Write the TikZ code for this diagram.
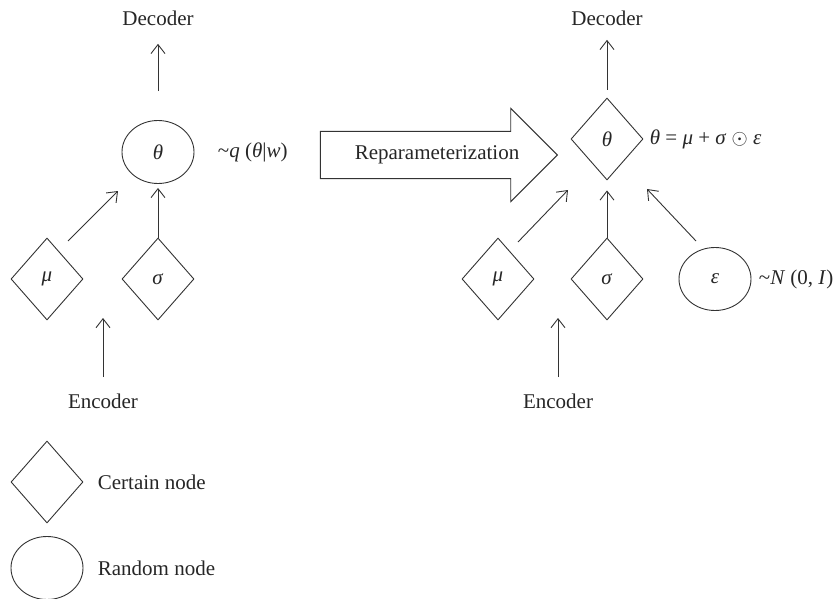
\documentclass[tikz,border=0pt]{standalone}
\usepackage{fontspec}
\setmainfont{Liberation Serif}
\usetikzlibrary{positioning,shapes.geometric,shapes.arrows,arrows.meta}

\begin{document}
\begin{tikzpicture}[
                x=1pt, y=1pt,                 % 按像素定位
                every node/.style={
                    font=\fontsize{21}{25}\selectfont,
                    text=black!85,
                    inner sep=0pt
                },
                >={Straight Barb[length=9pt,width=14pt]},
                line width=0.9pt,
                draw=black!80,
                certain/.style={diamond, draw, minimum width=72pt, minimum height=82pt},
                random/.style={ellipse, draw, minimum width=72pt, minimum height=63pt},
                arrow/.style={->},
                reparrow/.style={single arrow, draw, inner ysep=14pt, inner xsep=0pt,
                    minimum height=237pt, single arrow head extend=23pt,
                    single arrow tip angle=90}
            ]
                \useasboundingbox (0,0) rectangle (833,-599);

                % 左：采样
                \node[random] (thetaL) at (158,-152) {\textit{θ}};
                \node[certain] (sigmaL) [node distance=127pt, below of=thetaL] {\textit{σ}};
                \node[certain] (muL) [node distance=111pt, left of=sigmaL] {\textit{μ}};
                \node (decL) [node distance=134pt, above of=thetaL] {Decoder};
                \node (encL) at (103,-401) {Encoder};
                \coordinate (encLin) at (103,-318);
                \node (qL) [right=23pt of thetaL] {\textasciitilde\textit{q} (\textit{θ}|\textit{w})};

                % 中间箭头
                \node[reparrow, anchor=tip] (rep) at (558,-155) {\hspace*{20pt}Reparameterization};

                % 右：重参数化
                \node[certain] (thetaR) at (607,-139) {\textit{θ}};
                \node[certain] (sigmaR) [node distance=140pt, below of=thetaR] {\textit{σ}};
                \node[certain] (muR) [node distance=109pt, left of=sigmaR] {\textit{μ}};
                \node[random] (epsR) [node distance=108pt, right of=sigmaR] {\textit{ε}};
                \node (decR) [node distance=121pt, above of=thetaR] {Decoder};
                \node (encR) at (558,-401) {Encoder};
                \coordinate (encRin) at (558,-318);
                \node (eqR) [right=6pt of thetaR] {\textit{θ} = \textit{μ} + \textit{σ} $\odot$ \textit{ε}};
                \node (nR) [right=7pt of epsR] {\textasciitilde\textit{N} (0, \textit{I})};

                % 图例
                \node[certain] (legC) at (47,-482) {};
                \node (legCt) [right=14pt of legC] {Certain node};
                \node[random] (legR) at (47,-568) {};
                \node (legRt) [right=14pt of legR] {Random node};

                % 边
                \draw[arrow, shorten <=29pt, shorten >=18pt] (thetaL) -- (decL);
                \draw[arrow, shorten >=4pt] (sigmaL) -- (thetaL);
                \draw[arrow] ([shift={(21pt,38pt)}]muL.center) -- ([shift={(-40pt,-39pt)}]thetaL.center);
                \draw[arrow, shorten <=16pt] (encL) -- (encLin);

                \draw[arrow, shorten <=8pt, shorten >=14pt] (thetaR) -- (decR);
                \draw[arrow, shorten >=10pt] (sigmaR) -- (thetaR);
                \draw[arrow] ([shift={(20pt,37pt)}]muR.center) -- ([shift={(-39pt,-51pt)}]thetaR.center);
                \draw[arrow] ([shift={(-19pt,38pt)}]epsR.center) -- ([shift={(40pt,-50pt)}]thetaR.center);
                \draw[arrow, shorten <=16pt] (encR) -- (encRin);
            \end{tikzpicture}
\end{document}
